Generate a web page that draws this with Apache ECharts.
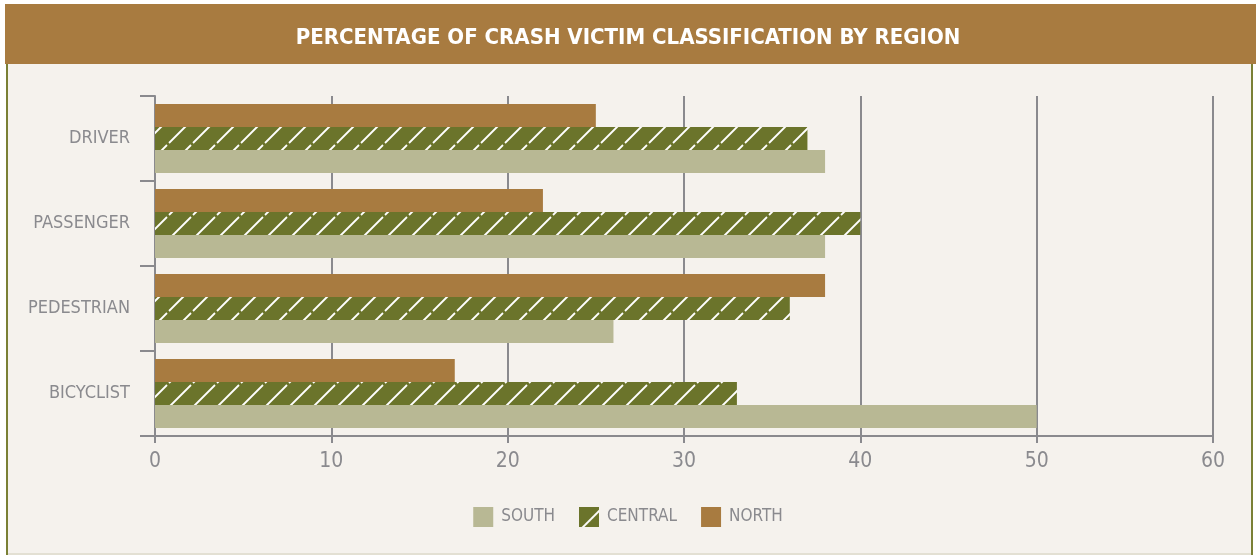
<!DOCTYPE html>
<html>
<head>
<meta charset="utf-8">
<title>Crash victim classification by region</title>
<script src="https://cdn.jsdelivr.net/npm/echarts@6/dist/echarts.min.js"></script>
<style>
    html, body { margin: 0; padding: 0; background: #ffffff; }
    #chart { width: 1256px; height: 556px; }
</style>
</head>
<body>
<div id="chart"></div>
<script>
// data (percent)
var categories = ['BICYCLIST', 'PEDESTRIAN', 'PASSENGER', 'DRIVER'];
var southData = [50, 26, 38, 38];
var centralData = [33, 36, 40, 37];
var northData = [17, 38, 22, 25];
var legendNames = ['SOUTH', 'CENTRAL', 'NORTH'];

var font = '"Liberation Sans Narrow", "DejaVu Sans Condensed", "Roboto", sans-serif';
var grey = '#8a8a8e';
var brown = '#a87b40';
var olive = '#6b742b';
var sage = '#b8b894';

// white diagonal hatch for the central bars
function hatch() {
    var c = document.createElement('canvas');
    c.width = 24;
    c.height = 24;
    var ctx = c.getContext('2d');
    ctx.fillStyle = olive;
    ctx.fillRect(0, 0, 24, 24);
    ctx.strokeStyle = '#ffffff';
    ctx.lineWidth = 1.8;
    ctx.beginPath();
    ctx.moveTo(1, 23); ctx.lineTo(23, 1);
    ctx.stroke();
    return c;
}

var myChart = echarts.init(document.getElementById('chart'));
var option = {
    animation: false,
    textStyle: { fontFamily: font },
    graphic: [
        { type: 'rect', z: -10, shape: { x: 5, y: 4, width: 1251, height: 60 }, style: { fill: brown } },
        { type: 'rect', z: -10, shape: { x: 6, y: 64, width: 1247, height: 491 }, style: { fill: '#f5f2ed' } },
        { type: 'rect', z: -9, shape: { x: 6, y: 64, width: 2, height: 491 }, style: { fill: '#7a8035' } },
        { type: 'rect', z: -9, shape: { x: 1251, y: 64, width: 2, height: 491 }, style: { fill: '#7a8035' } },
        { type: 'rect', z: -9, shape: { x: 8, y: 553, width: 1243, height: 2 }, style: { fill: '#e3e0d3' } }
    ],
    title: {
        text: 'PERCENTAGE OF CRASH VICTIM CLASSIFICATION BY REGION',
        left: 'center',
        top: 22,
        textStyle: {
            color: '#ffffff',
            fontFamily: font,
            fontWeight: 'bold',
            fontSize: 22
        }
    },
    legend: {
        data: legendNames,
        left: 'center',
        top: 502,
        itemWidth: 20,
        itemHeight: 20,
        itemGap: 24,
        icon: 'rect',
        textStyle: { color: grey, fontSize: 17, fontFamily: font, padding: [0, 0, 0, 3] }
    },
    grid: {
        left: 155,
        right: 43,
        top: 96,
        bottom: 120
    },
    xAxis: {
        type: 'value',
        min: 0,
        max: 60,
        interval: 10,
        axisLine: { show: true, lineStyle: { color: grey, width: 2 } },
        axisTick: { show: true, length: 7, lineStyle: { color: grey, width: 2 } },
        axisLabel: { color: grey, fontSize: 21, margin: 15, fontFamily: font },
        splitLine: { show: true, lineStyle: { color: grey, width: 2 } }
    },
    yAxis: {
        type: 'category',
        data: categories,
        axisLine: { show: true, lineStyle: { color: grey, width: 2 } },
        axisTick: { show: true, length: 15, lineStyle: { color: grey, width: 2 } },
        axisLabel: { color: grey, fontSize: 18, margin: 25, fontFamily: font },
        splitLine: { show: false }
    },
    // north first so it sits on top of each group
    series: [
        {
            name: 'NORTH',
            type: 'bar',
            data: northData,
            barWidth: 23,
            barGap: 0,
            itemStyle: { color: brown }
        },
        {
            name: 'CENTRAL',
            type: 'bar',
            data: centralData,
            barWidth: 23,
            barGap: 0,
            itemStyle: { color: { image: hatch(), repeat: 'repeat' } }
        },
        {
            name: 'SOUTH',
            type: 'bar',
            data: southData,
            barWidth: 23,
            barGap: 0,
            itemStyle: { color: sage }
        }
    ]
};
myChart.setOption(option);
window.addEventListener('resize', function () {
    myChart.resize();
});
</script>
</body>
</html>
